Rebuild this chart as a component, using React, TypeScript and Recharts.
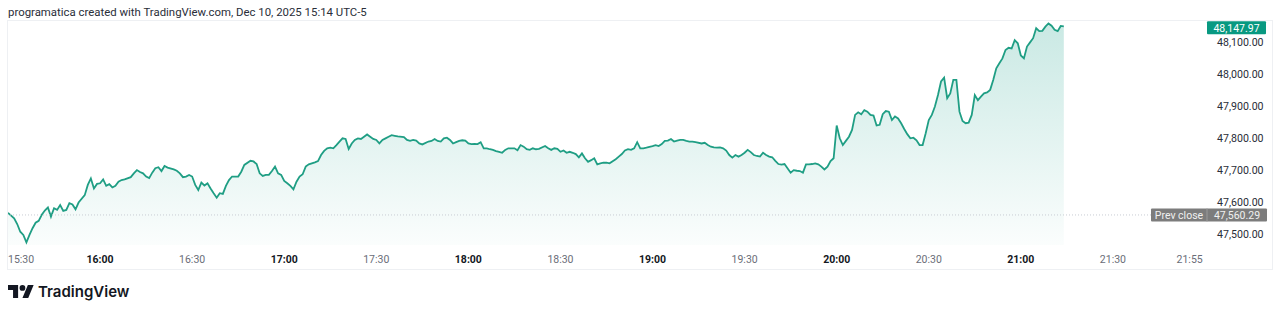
import React from "react";
import { AreaChart, Area, XAxis, YAxis, ReferenceLine } from "recharts";

// minutes after 15:30, 1-minute closes
const minutes = [
  0, 2, 3, 4, 5, 6, 7, 8, 9, 10, 11, 12, 13, 14, 15, 16, 17, 18, 19, 20, 21, 22, 23, 25, 26, 27, 28, 29,
  30, 31, 32, 33, 34, 35, 36, 37, 38, 40, 41, 42, 43, 44, 45, 46, 47, 48, 49, 50, 51, 52, 54, 55, 56, 57,
  58, 59, 60, 61, 62, 63, 64, 65, 66, 67, 68, 69, 70, 71, 72, 73, 75, 76, 77, 79, 80, 81, 82, 83, 84, 85,
  86, 87, 88, 89, 90, 91, 92, 93, 94, 95, 96, 97, 98, 100, 101, 102, 103, 104, 105, 106, 107, 108, 109,
  110, 111, 112, 113, 114, 115, 116, 117, 118, 119, 120, 121, 122, 123, 124, 125, 126, 127, 129, 130, 131,
  132, 133, 134, 135, 137, 138, 139, 140, 141, 142, 143, 144, 145, 146, 147, 148, 149, 150, 151, 152, 153,
  154, 155, 156, 157, 158, 159, 160, 161, 162, 163, 164, 165, 166, 167, 168, 169, 170, 171, 172, 173,
  175, 176, 177, 178, 179, 180, 181, 182, 183, 184, 185, 186, 187, 188, 189, 190, 191, 192, 193, 194, 195,
  196, 198, 199, 200, 201, 202, 203, 204, 205, 206, 207, 208, 210, 211, 212, 213, 214, 215, 216, 217, 218,
  219, 220, 221, 222, 223, 224, 226, 227, 228, 229, 230, 231, 232, 233, 234, 235, 236, 237, 238, 239, 240,
  241, 242, 243, 244, 245, 246, 247, 248, 249, 250, 251, 252, 253, 255, 256, 257, 258, 259, 260, 261, 262,
  263, 264, 265, 266, 267, 268, 269, 270, 271, 272, 273, 274, 275, 276, 277, 278, 279, 280, 281, 282, 283,
  284, 285, 286, 287, 288, 289, 290, 291, 292, 293, 294, 295, 296, 297, 298, 299, 300, 301, 302, 303, 304,
  305, 306, 307, 308, 309, 310, 311, 312, 313, 314, 315, 316, 317, 318, 319, 320, 321, 322, 323, 324, 325,
  326, 327, 328, 329, 330, 331, 332, 333, 334, 335, 336, 337, 338, 339, 340, 341, 342, 343, 344,
];

const prices = [
  47567, 47550, 47532, 47508, 47498, 47475, 47498, 47519, 47536, 47542, 47561, 47574, 47584, 47555, 47581,
  47576, 47591, 47573, 47576, 47597, 47593, 47578, 47599, 47622, 47654, 47674, 47643, 47657,
  47659, 47671, 47651, 47656, 47646, 47651, 47664, 47669, 47671, 47678, 47690, 47700, 47694, 47690, 47680,
  47675, 47692, 47706, 47709, 47697, 47713, 47708, 47702, 47698, 47690, 47678,
  47680, 47685, 47680, 47654, 47638, 47661, 47652, 47659, 47643, 47628, 47614, 47628, 47626, 47651, 47669,
  47680, 47680, 47695, 47716, 47729, 47727, 47719, 47690, 47682, 47685, 47685,
  47697, 47711, 47690, 47685, 47666, 47659, 47651, 47640, 47664, 47680, 47687, 47711, 47718, 47724, 47728,
  47747, 47760, 47768, 47770, 47768, 47778, 47789, 47799,
  47797, 47766, 47783, 47794, 47799, 47797, 47804, 47811, 47804, 47797, 47794, 47783, 47794, 47799, 47804,
  47809, 47807, 47805, 47803, 47794, 47791,
  47794, 47792, 47783, 47780, 47789, 47791, 47797, 47791, 47789, 47799, 47801, 47794, 47783, 47787, 47791,
  47793, 47792, 47783, 47781, 47782, 47781,
  47787, 47768, 47768, 47765, 47763, 47759, 47757, 47754, 47763, 47768, 47768, 47768, 47762, 47778, 47773,
  47765, 47763, 47768, 47765, 47766,
  47775, 47768, 47763, 47768, 47766, 47757, 47761, 47754, 47757, 47754, 47750, 47740, 47752, 47737, 47726,
  47731, 47737, 47718, 47721, 47723, 47723,
  47721, 47734, 47742, 47750, 47761, 47765, 47763, 47768, 47787, 47768, 47768, 47770, 47775, 47778, 47775,
  47781, 47791, 47792, 47797, 47789, 47792,
  47794, 47794, 47791, 47789, 47789, 47787, 47783, 47785, 47778, 47773, 47771, 47770, 47771, 47768, 47761,
  47747, 47739, 47747, 47742, 47747, 47754,
  47763, 47756, 47747, 47744, 47742, 47754, 47747, 47742, 47740, 47729, 47719, 47717, 47719, 47692, 47700,
  47698, 47697, 47692, 47718, 47718, 47719,
  47721, 47718, 47711, 47702, 47711, 47728, 47737, 47839, 47799, 47778, 47791, 47804, 47825, 47872, 47880,
  47874, 47887, 47882, 47872, 47870, 47839,
  47841, 47874, 47884, 47882, 47856, 47867, 47861, 47846, 47828, 47812, 47799, 47801, 47793, 47778, 47778,
  47815, 47856, 47872, 47898, 47934, 47976,
  47988, 47924, 47939, 47981, 47981, 47882, 47853, 47846, 47848, 47872, 47934, 47918, 47929, 47939, 47942,
  47950, 47981, 48017, 48033, 48048, 48074,
  48081, 48079, 48105, 48095, 48057, 48048, 48085, 48098, 48111, 48142, 48133, 48134, 48147, 48157, 48150,
  48137, 48133, 48149, 48147.97,
];

const timeTicks = [0, 30, 60, 90, 120, 150, 180, 210, 240, 270, 300, 330, 360, 385];
const timeLabels = [
  "15:30", "16:00", "16:30", "17:00", "17:30", "18:00", "18:30",
  "19:00", "19:30", "20:00", "20:30", "21:00", "21:30", "21:55",
];
const priceTicks = [47500, 47600, 47700, 47800, 47900, 48000, 48100];
const prevClose = 47560.29;
const lastPrice = 48147.97;

const data = minutes.map((m, i) => ({ m, price: prices[i] }));

const fmt = (v: number) =>
  v.toLocaleString("en-US", { minimumFractionDigits: 2, maximumFractionDigits: 2 });

const FONT = "Roboto, 'Noto Sans', sans-serif";
const GREEN = "#089981";
const LINE = "#1f9e84";

function TimeTick(props: any) {
  const { x, y, payload } = props;
  const i = timeTicks.indexOf(payload.value);
  const label = timeLabels[i];
  const bold = label.endsWith(":00");
  return (
    <text
      x={x}
      y={y + 16}
      textAnchor={i === 0 ? "start" : "middle"}
      fontFamily={FONT}
      fontSize={10.5}
      fontWeight={bold ? 700 : 400}
      fill={bold ? "#131722" : "#6a6d78"}
    >
      {label}
    </text>
  );
}

function PriceTick(props: any) {
  const { x, y, payload } = props;
  return (
    <text x={x + 10} y={y + 4} fontFamily={FONT} fontSize={10.6} fill="#2a2e39">
      {fmt(payload.value)}
    </text>
  );
}

function LastPriceLabel(props: any) {
  const { viewBox } = props;
  const ax = viewBox.x + viewBox.width + 2;
  const cy = viewBox.y + 1.5;
  return (
    <g>
      <rect x={ax} y={cy - 6.5} width={59} height={13} fill={GREEN} rx={1} />
      <text x={ax + 29.5} y={cy + 4} textAnchor="middle" fontFamily={FONT} fontSize={10.5} fill="#fff">
        {fmt(lastPrice)}
      </text>
    </g>
  );
}

function PrevCloseLabel(props: any) {
  const { viewBox } = props;
  const ax = viewBox.x + viewBox.width + 2;
  const cy = viewBox.y;
  return (
    <g>
      <rect x={ax - 56} y={cy - 6.5} width={116} height={13} fill="#7c7c7c" rx={1} />
      <line x1={ax} x2={ax} y1={cy - 6.5} y2={cy + 6.5} stroke="#9a9a9a" strokeWidth={1} />
      <text x={ax - 28} y={cy + 4} textAnchor="middle" fontFamily={FONT} fontSize={10.5} fill="#f0f0f0">
        Prev close
      </text>
      <text x={ax + 30} y={cy + 4} textAnchor="middle" fontFamily={FONT} fontSize={10.5} fill="#f0f0f0">
        {fmt(prevClose)}
      </text>
    </g>
  );
}

export default function App() {
  return (
    <div style={{ position: "absolute", left: 0, top: 0, width: 1280, height: 314, background: "#fff" }}>
      <div
        style={{
          position: "absolute",
          left: 8,
          top: 5,
          fontFamily: FONT,
          fontSize: 11.4,
          color: "#2a2e39",
          whiteSpace: "nowrap",
        }}
      >
        programatica created with TradingView.com, Dec 10, 2025 15:14 UTC-5
      </div>
      <div
        style={{
          position: "absolute",
          left: 7,
          top: 20,
          width: 1264,
          height: 248,
          border: "1px solid #eef0f3",
        }}
      />
      <div style={{ position: "absolute", left: 8, top: 21 }}>
        <AreaChart width={1264} height={247} data={data} margin={{ top: 0, right: 0, bottom: 0, left: 0 }}>
          <defs>
            <linearGradient id="fillGrad" x1="0" y1="0" x2="0" y2="1">
              <stop offset="0%" stopColor={GREEN} stopOpacity={0.36} />
              <stop offset="100%" stopColor={GREEN} stopOpacity={0.03} />
            </linearGradient>
          </defs>
          <XAxis
            dataKey="m"
            type="number"
            domain={[0, 390]}
            ticks={timeTicks}
            allowDataOverflow
            axisLine={false}
            tickLine={false}
            tickSize={0}
            height={23}
            tick={<TimeTick />}
            interval={0}
          />
          <YAxis
            orientation="right"
            type="number"
            domain={[47466.7, 48164.5]}
            ticks={priceTicks}
            allowDataOverflow
            axisLine={false}
            tickLine={false}
            tickSize={0}
            width={67}
            tick={<PriceTick />}
            interval={0}
          />
          <ReferenceLine
            y={prevClose}
            stroke="#c9ccd4"
            strokeDasharray="1 2"
            label={<PrevCloseLabel />}
          />
          <ReferenceLine y={lastPrice} stroke="none" strokeOpacity={0} label={<LastPriceLabel />} />
          <Area
            type="linear"
            dataKey="price"
            stroke={LINE}
            strokeWidth={1.8}
            fill="url(#fillGrad)"
            dot={false}
            activeDot={false}
            isAnimationActive={false}
          />
        </AreaChart>
      </div>
      <div style={{ position: "absolute", left: 8, top: 284, display: "flex", alignItems: "center" }}>
        <svg width={26} height={13} viewBox="0 4 36 18">
          <path d="M14 22H7V11H0V4h14v18zM28 22h-8l7.5-18h8L28 22z" fill="#131722" />
          <circle cx={20} cy={8} r={4} fill="#131722" />
        </svg>
        <span
          style={{
            marginLeft: 4,
            fontFamily: "Inter, sans-serif",
            fontWeight: 600,
            fontSize: 15,
            color: "#131722",
            lineHeight: "15px",
          }}
        >
          TradingView
        </span>
      </div>
    </div>
  );
}
